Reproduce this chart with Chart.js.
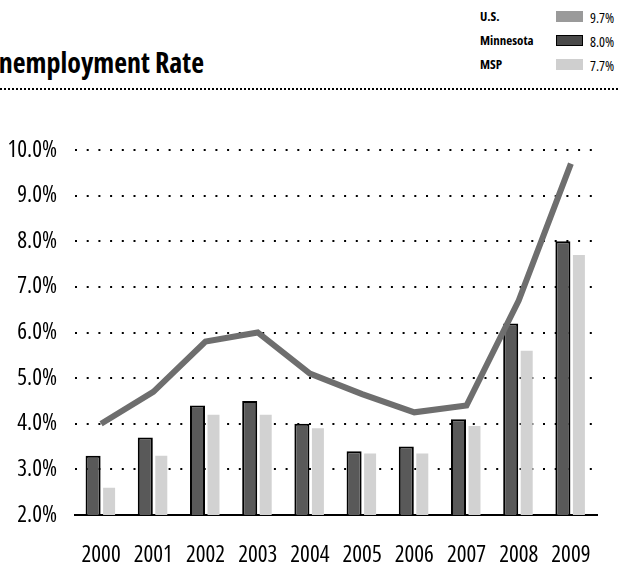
<!DOCTYPE html>
<html lang="en">
<head>
    <meta charset="UTF-8">
    <title>Unemployment Rate</title>
    <script src="https://cdn.jsdelivr.net/npm/chart.js"></script>
    <style>
        html, body {
            margin: 0;
            padding: 0;
            width: 622px;
            height: 565px;
            overflow: hidden;
            background: #fff;
        }
        .title {
            position: absolute;
            left: -17px;
            top: 47px;
            font-family: "Open Sans", sans-serif;
            font-size: 28px;
            font-weight: bold;
            font-stretch: condensed;
            line-height: 30px;
            color: #000;
            white-space: nowrap;
        }
        .rule {
            position: absolute;
            left: 0;
            top: 88px;
            width: 618px;
            border-top: 2px dotted #000;
        }
        .legend {
            position: absolute;
            left: 480px;
            font-family: "Open Sans", sans-serif;
            font-stretch: condensed;
            font-size: 13px;
            line-height: 14px;
            color: #000;
        }
        .legend b {
            position: absolute;
            left: 0;
            white-space: nowrap;
        }
        .legend i {
            position: absolute;
            left: 76px;
            width: 27px;
            height: 11px;
        }
        .legend span {
            position: absolute;
            left: 110px;
            font-size: 14px;
        }
        #chart {
            position: absolute;
            left: 0;
            top: 0;
        }
    </style>
</head>
<body>
    <div class="title">Unemployment Rate</div>
    <div class="rule"></div>
    <div id="legend"></div>
    <canvas id="chart" width="622" height="565"></canvas>

<script>
    const years = ['2000', '2001', '2002', '2003', '2004', '2005', '2006', '2007', '2008', '2009'];
    const usRate = [4.0, 4.7, 5.8, 6.0, 5.1, 4.65, 4.25, 4.4, 6.7, 9.7];
    const mnRate = [3.3, 3.7, 4.4, 4.5, 4.0, 3.4, 3.5, 4.1, 6.2, 8.0];
    const mspRate = [2.6, 3.3, 4.2, 4.2, 3.9, 3.35, 3.35, 3.95, 5.6, 7.7];
    const legendNames = ['U.S.', 'Minnesota', 'MSP'];
    const legendValues = ['9.7%', '8.0%', '7.7%'];

    let colors = {
        us: '#6e6e6e',
        mn: '#595959',
        msp: '#d2d2d2'
    };
    // Open Sans squeezed with font-stretch, the closest thing to the condensed face
    let tickFont = { family: '"Open Sans", sans-serif', size: 23, weight: '500 condensed' };

    // legend box top right
    let legendSwatch = [
        'background:#9a9a9a',
        'background:#4a4a4a;border:1px solid #000;box-sizing:border-box',
        'background:#cfcfcf'
    ];
    let legendTops = [9, 33, 57];
    let html = '';
    for (let i in legendNames) {
        html += `
            <div class="legend" style="top:${legendTops[i]}px">
                <b>${legendNames[i]}</b>
                <i style="top:2px;${legendSwatch[i]}"></i>
                <span style="top:2px">${legendValues[i]}</span>
            </div>
        `;
    }
    document.getElementById('legend').innerHTML = html;

    const elChart = document.getElementById('chart');
    let chart = new Chart(elChart, {
        type: 'bar',
        data: {
            labels: years,
            datasets: [{
                type: 'line',
                label: 'U.S.',
                data: usRate,
                borderColor: colors.us,
                borderWidth: 6,
                pointRadius: 0,
                tension: 0,
                order: 0
            }, {
                label: 'Minnesota',
                data: mnRate,
                backgroundColor: colors.mn,
                borderColor: '#000',
                borderWidth: 2,
                barPercentage: 0.94,
                categoryPercentage: 0.613,
                order: 1
            }, {
                label: 'MSP',
                data: mspRate,
                backgroundColor: colors.msp,
                borderWidth: 0,
                barPercentage: 0.75,
                categoryPercentage: 0.613,
                order: 1
            }]
        },
        options: {
            responsive: false,
            animation: false,
            layout: {
                padding: { top: 150, right: 25, left: 0, bottom: 0 }
            },
            plugins: {
                legend: { display: false },
                tooltip: { enabled: false }
            },
            scales: {
                x: {
                    afterFit: (s) => { s.height = 50; },
                    grid: { display: false, drawTicks: false },
                    border: { display: true, color: '#000', width: 2 },
                    ticks: {
                        color: '#000',
                        padding: 27,
                        autoSkip: false,
                        maxRotation: 0,
                        minRotation: 0,
                        font: tickFont
                    }
                },
                y: {
                    min: 2,
                    max: 10,
                    afterFit: (s) => { s.width = 75; },
                    grid: {
                        drawTicks: false,
                        lineWidth: 2,
                        color: (c) => c.tick && c.tick.value === 2 ? 'rgba(0,0,0,0)' : '#000'
                    },
                    border: { display: false, dash: [2, 9.7] },
                    ticks: {
                        stepSize: 1,
                        color: '#000',
                        padding: 18,
                        font: tickFont,
                        callback: (v) => v.toFixed(1) + '%'
                    }
                }
            }
        }
    });
</script>
</body>
</html>
